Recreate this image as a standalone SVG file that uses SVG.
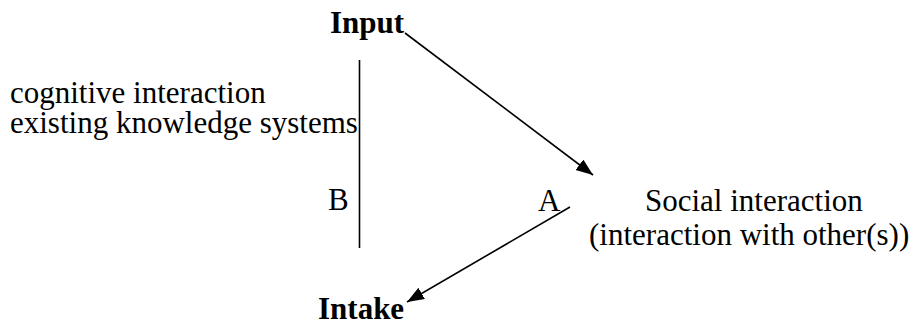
<svg xmlns="http://www.w3.org/2000/svg" width="912" height="325" viewBox="0 0 912 325">
  <style>
    text { font-family: "Liberation Serif", Tinos, "Times New Roman", "DejaVu Serif", serif; font-size: 31px; font-weight: normal; fill: #000; }
    text.bold { font-weight: bold; }
    .conn { stroke: #000; stroke-width: 1.6; fill: none; }
  </style>
  <defs>
    <marker id="arrow" markerUnits="userSpaceOnUse" markerWidth="19" markerHeight="15" refX="17" refY="6.5" orient="auto">
      <path d="M0,0 L17,6.5 L0,13 Z" fill="#000"/>
    </marker>
  </defs>
  <rect width="912" height="325" fill="#fff"/>
  <g id="node-input"><text class="bold" x="330" y="33">Input</text></g>
  <g id="node-intake"><text class="bold" x="318" y="319">Intake</text></g>
  <g id="node-cognitive">
    <text x="10" y="103">cognitive interaction</text>
    <text x="10" y="133">existing knowledge systems</text>
  </g>
  <g id="label-b"><text x="328" y="210">B</text></g>
  <g id="label-a"><text x="538" y="211">A</text></g>
  <g id="node-social">
    <text x="645" y="211">Social interaction</text>
    <text x="589" y="245">(interaction with other(s))</text>
  </g>
  <g id="connectors">
    <line class="conn" x1="359.5" y1="60" x2="359.5" y2="248"/>
    <line class="conn" x1="405" y1="33" x2="593" y2="175" marker-end="url(#arrow)"/>
    <line class="conn" x1="570" y1="207" x2="407" y2="302" marker-end="url(#arrow)"/>
  </g>
</svg>
